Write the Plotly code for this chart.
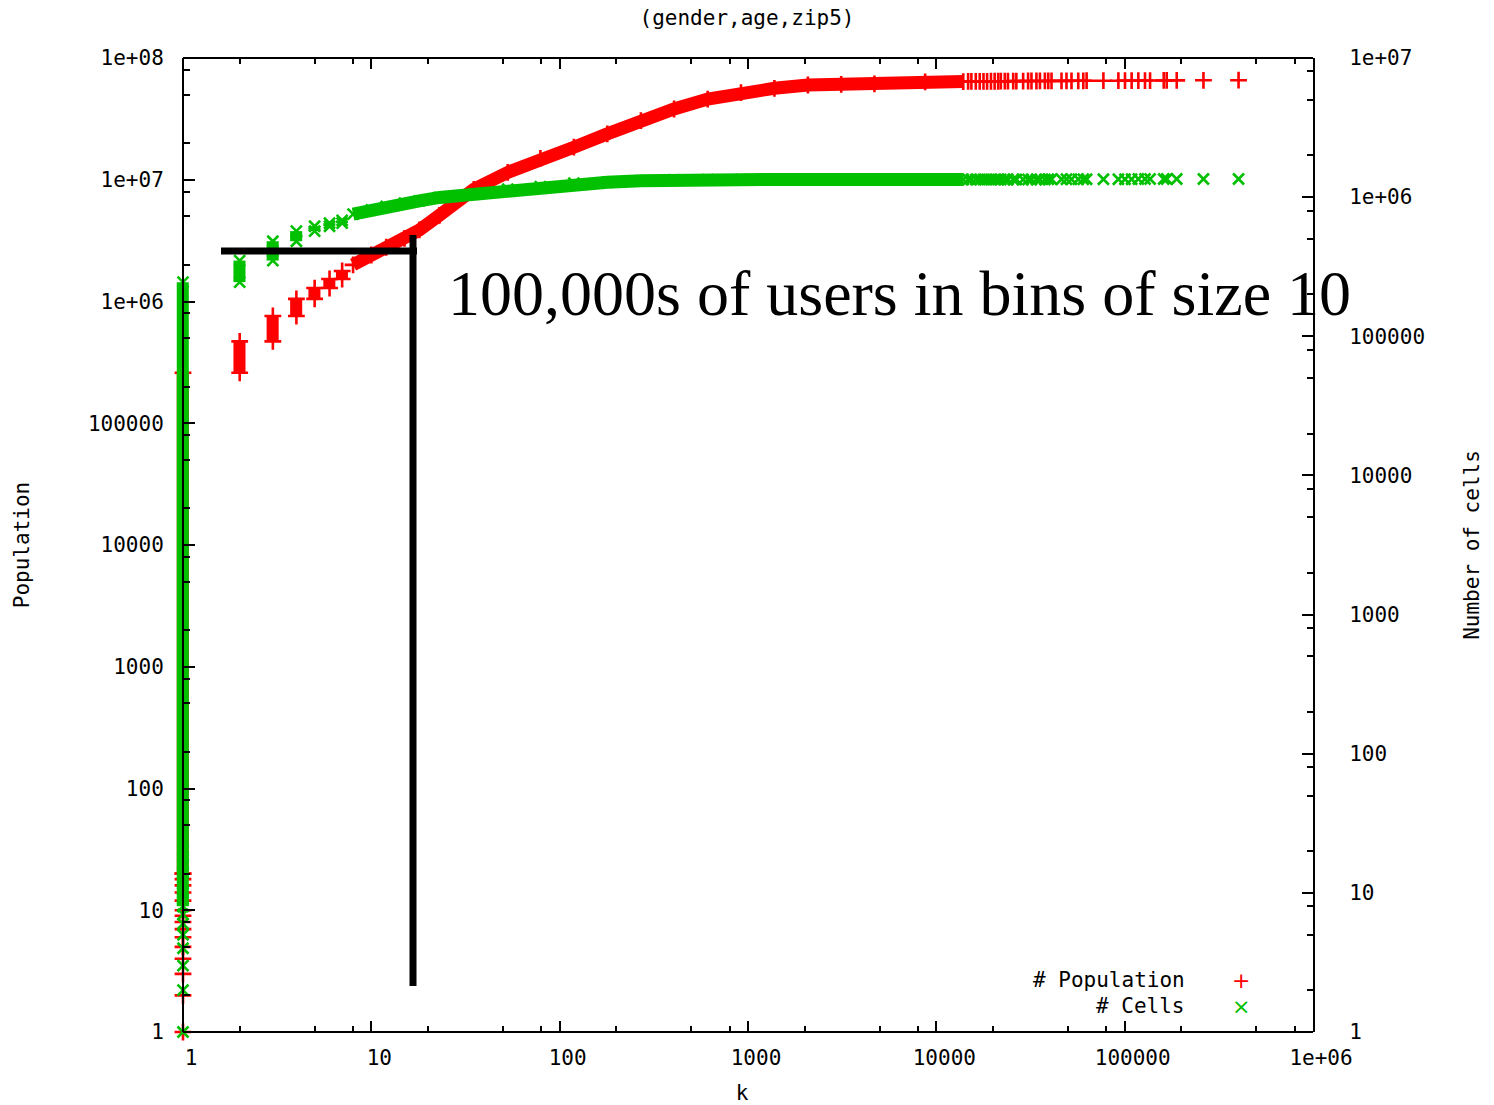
import plotly.graph_objects as go

# ------------------------------------------------------------------ data
# k = 1 column: the lowest cumulative counts show up as separate points
k1_counts = [1, 2, 3, 4, 5, 6, 7, 8, 9, 10, 12, 14, 16, 18, 20]

# small-k bins: each bin is a vertical run from the cumulative value before it
# to the cumulative value after it
bin_k = [1, 2, 3, 4, 5, 6, 7]
pop_lo = [20, 2.6e5, 4.7e5, 7.6e5, 1.05e6, 1.29e6, 1.53e6]
pop_hi = [2.6e5, 4.7e5, 7.6e5, 1.05e6, 1.29e6, 1.53e6, 1.78e6]
cells_lo = [8, 2.45e5, 3.5e5, 4.82e5, 5.7e5, 6.18e5, 6.5e5]
cells_hi = [2.45e5, 3.5e5, 4.82e5, 5.7e5, 6.18e5, 6.5e5, 6.8e5]

# dense part of the cumulative curves
curve_k = [8, 10, 12, 15, 18, 23, 35, 53, 79, 119, 179, 270, 405, 611, 918,
           1381, 2080, 3125, 4690, 8720, 13900]
pop_curve = [2.0e6, 2.41e6, 2.79e6, 3.3e6, 3.87e6, 5.1e6, 8.35e6, 1.15e7,
             1.5e7, 1.85e7, 2.38e7, 3.06e7, 3.81e7, 4.6e7, 5.19e7, 5.64e7,
             6.0e7, 6.08e7, 6.12e7, 6.36e7, 6.4e7]
cells_curve = [7.55e5, 8.1e5, 8.57e5, 9.06e5, 9.4e5, 9.95e5, 1.05e6, 1.14e6,
               1.19e6, 1.26e6, 1.28e6, 1.31e6, 1.33e6, 1.335e6, 1.34e6,
               1.34e6, 1.34e6, 1.34e6, 1.34e6, 1.34e6, 1.34e6]

# sparse tail: individual large cells
tail_k = [14750, 15350, 16200, 17000, 17800, 18600, 19500, 20400, 21300,
          22000, 23100, 24000, 25600, 26600, 28900, 30700, 32000, 34000,
          35500, 37700, 39300, 40900, 46200, 49100, 52200, 56700, 60300,
          62800, 77100, 92600, 100400, 108900, 118200, 128200, 136400,
          161200, 167200, 189000, 262000, 402500]
pop_tail = [6.42e7, 6.42e7, 6.42e7, 6.43e7, 6.43e7, 6.43e7, 6.44e7, 6.44e7,
            6.44e7, 6.45e7, 6.45e7, 6.45e7, 6.46e7, 6.46e7, 6.46e7, 6.47e7,
            6.47e7, 6.47e7, 6.48e7, 6.48e7, 6.48e7, 6.49e7, 6.49e7, 6.49e7,
            6.5e7, 6.5e7, 6.5e7, 6.51e7, 6.51e7, 6.51e7, 6.52e7, 6.52e7,
            6.52e7, 6.53e7, 6.53e7, 6.54e7, 6.54e7, 6.55e7, 6.56e7, 6.57e7]
cells_tail = [1.34e6] * 20 + [1.345e6] * 12 + [1.35e6] * 8

x_tickvals = [1, 10, 100, 1000, 10000, 100000, 1000000]
x_ticktext = ["1", "10", "100", "1000", "10000", "100000", "1e+06"]
y_tickvals = [1, 10, 100, 1000, 10000, 100000, 1e6, 1e7, 1e8]
y_ticktext = ["1", "10", "100", "1000", "10000", "100000", "1e+06", "1e+07", "1e+08"]
y2_tickvals = [1, 10, 100, 1000, 10000, 100000, 1e6, 1e7]
y2_ticktext = ["1", "10", "100", "1000", "10000", "100000", "1e+06", "1e+07"]
minor_digits = [2, 5, 8]

title_text = "(gender,age,zip5)"
x_title = "k"
y_title = "Population"
y2_title = "Number of cells"
legend_names = ["# Population", "# Cells"]
note_text = "100,000s of users in bins of size 10"

# ------------------------------------------------------------------ style
RED = "#ff0000"
GREEN = "#00c000"
MONO = "DejaVu Sans Mono"
TICK_FONT = dict(family=MONO, size=21, color="black")
BAR_REL = 0.147          # bin run width relative to k (about one symbol wide)

W, H = 1494, 1105
AX_L, R, T, B = 183, 1313, 58, 1032   # frame of the chart in page pixels
PAD = 12                               # room left of k=1 so its run is not cut
L = AX_L - PAD                         # left edge of the subplot area
X_DECADES = 6
X_START = -X_DECADES * PAD / (R - AX_L)   # log10 of k at the subplot's left edge


def px(xp):
    return (xp - L) / (R - L)


def py(yp):
    return (B - yp) / (B - T)


def minor_vals(ndec):
    return [d * 10 ** e for e in range(ndec) for d in minor_digits]


fig = go.Figure()

series = [
    dict(name=legend_names[0], color=RED, sym="cross-thin", yaxis="y",
         lo=pop_lo, hi=pop_hi, curve=pop_curve, tail=pop_tail, msize=12),
    dict(name=legend_names[1], color=GREEN, sym="x-thin", yaxis="y2",
         lo=cells_lo, hi=cells_hi, curve=cells_curve, tail=cells_tail, msize=11),
]

for s in series:
    mk = dict(symbol=s["sym"], size=s["msize"],
              line=dict(color=s["color"], width=2.6), color=s["color"])
    # each small-k bin: a solid run from the bin start to the bin end
    fig.add_trace(go.Bar(
        x=bin_k, base=s["lo"], y=[h - l for h, l in zip(s["hi"], s["lo"])],
        width=[k * BAR_REL for k in bin_k], yaxis=s["yaxis"],
        marker=dict(color=s["color"], line=dict(width=0)),
        showlegend=False, name=s["name"], hoverinfo="skip"))
    fig.add_trace(go.Scatter(x=bin_k + bin_k, y=s["lo"] + s["hi"],
                             mode="markers", yaxis=s["yaxis"], marker=mk,
                             showlegend=False, name=s["name"]))
    fig.add_trace(go.Scatter(x=[1] * len(k1_counts), y=k1_counts,
                             mode="markers", yaxis=s["yaxis"], marker=mk,
                             cliponaxis=False, showlegend=False,
                             name=s["name"]))
    fig.add_trace(go.Scatter(x=curve_k, y=s["curve"], mode="lines+markers",
                             yaxis=s["yaxis"], marker=mk,
                             line=dict(color=s["color"], width=13),
                             showlegend=False, name=s["name"]))
    fig.add_trace(go.Scatter(x=tail_k, y=s["tail"], mode="markers",
                             yaxis=s["yaxis"], marker=mk,
                             showlegend=False, name=s["name"]))

axis_common = dict(
    type="log", showgrid=False, zeroline=False, showline=True,
    linecolor="black", linewidth=2, ticks="inside", ticklen=11,
    tickwidth=2, tickcolor="black", tickfont=TICK_FONT, tickmode="array",
    automargin=False,
)


def minor(ndec):
    return dict(tickmode="array", tickvals=minor_vals(ndec), ticks="inside",
                ticklen=6, tickwidth=2, tickcolor="black")


fig.update_layout(
    template="none",
    width=W, height=H,
    margin=dict(l=L, r=W - R, t=T, b=H - B),
    paper_bgcolor="white", plot_bgcolor="white",
    font=dict(family=MONO, size=21, color="black"),
    showlegend=False,
    barmode="overlay",
    title=dict(text=title_text, x=px(747), xref="paper", xanchor="center",
               y=1 - 18 / H, yref="container", yanchor="middle",
               font=dict(family=MONO, size=21, color="black")),
    xaxis=dict(axis_common, range=[X_START, X_DECADES], mirror="ticks",
               showline=False,
               tickvals=x_tickvals, ticktext=x_ticktext,
               ticklabelstandoff=11, ticklabelshift=8,
               minor=minor(6),
               title=dict(text=x_title, standoff=28,
                          font=dict(family=MONO, size=21))),
    yaxis=dict(axis_common, range=[0, 8], anchor="free",
               position=px(AX_L),
               tickvals=y_tickvals, ticktext=y_ticktext,
               ticklabelstandoff=14,
               minor=minor(8),
               title=dict(text=y_title, standoff=52,
                          font=dict(family=MONO, size=21))),
    yaxis2=dict(axis_common, range=[0, 7], overlaying="y", side="right",
                anchor="x",
                tickvals=y2_tickvals, ticktext=y2_ticktext,
                ticklabelstandoff=30,
                minor=minor(7),
                title=dict(text=y2_title, standoff=40,
                           font=dict(family=MONO, size=21))),
    # left-axis ticks repeated on the right frame edge (gnuplot mirror)
    yaxis3=dict(axis_common, range=[0, 8], overlaying="y", side="right",
                anchor="x", showline=False, showticklabels=False,
                tickvals=y_tickvals, minor=minor(8)),
)

# top and bottom frame edges (the frame starts at k = 1)
for yy in (0, 1):
    fig.add_shape(type="line", xref="paper", yref="paper",
                  x0=px(AX_L), x1=1, y0=yy, y1=yy,
                  line=dict(color="black", width=2), layer="above")

# annotation drawn on top of the chart (black bracket + note)
fig.add_shape(type="rect", xref="paper", yref="paper",
              x0=px(221), x1=px(417), y0=py(254.5), y1=py(247.5),
              fillcolor="black", line=dict(width=0), layer="above")
fig.add_shape(type="rect", xref="paper", yref="paper",
              x0=px(409.5), x1=px(416.5), y0=py(986), y1=py(235),
              fillcolor="black", line=dict(width=0), layer="above")
fig.add_annotation(text=note_text, xref="paper", yref="paper",
                   x=px(446), y=py(293), xanchor="left", yanchor="middle",
                   showarrow=False,
                   font=dict(family="Liberation Serif", size=64, color="black"))

# key, gnuplot style: text then sample symbol
for i, (name, col, glyph) in enumerate(zip(legend_names, [RED, GREEN], ["+", "×"])):
    yy = py(980 + 26 * i)
    fig.add_annotation(text=name, xref="paper", yref="paper", x=px(1187),
                       y=yy, xanchor="right", yanchor="middle",
                       showarrow=False, font=dict(family=MONO, size=21))
    fig.add_annotation(text=glyph, xref="paper", yref="paper", x=px(1241),
                       y=yy, xanchor="center", yanchor="middle",
                       showarrow=False,
                       font=dict(family="DejaVu Sans", size=22, color=col))

fig.write_html("out.html")
